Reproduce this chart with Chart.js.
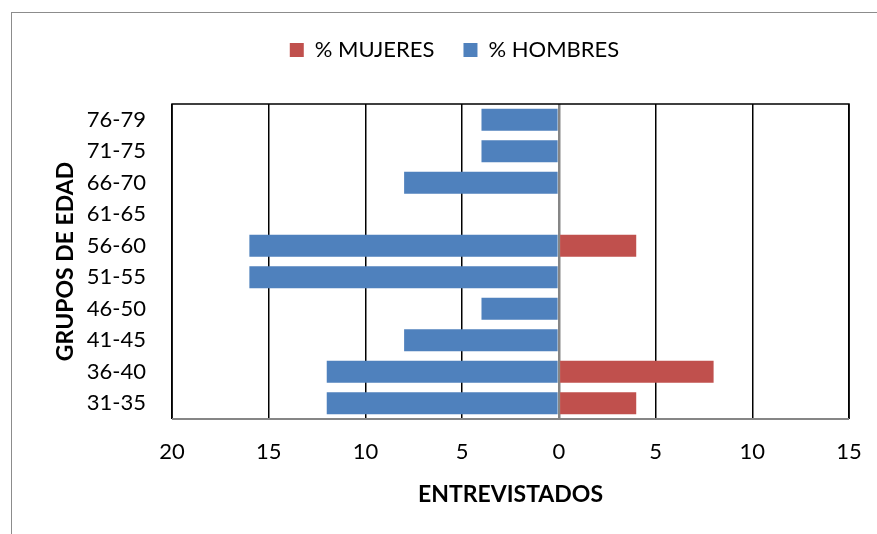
<!DOCTYPE html>
<html>
<head>
<meta charset="utf-8">
<script src="https://cdn.jsdelivr.net/npm/chart.js@4.4.1/dist/chart.umd.min.js"></script>
<style>
  html, body { margin: 0; padding: 0; background: #fff; }
  #wrap { position: relative; width: 877px; height: 534px; }
  #frame { position: absolute; left: 11px; top: 12px; width: 900px; height: 560px; border: 1px solid #8c8c8c; box-sizing: border-box; }
  canvas { position: absolute; left: 0; top: 0; }
</style>
</head>
<body>
<div id="wrap">
  <div id="frame"></div>
  <canvas id="chart" width="877" height="534"></canvas>
</div>
<script>
// grupos de edad, de arriba hacia abajo
const grupos = ["76-79", "71-75", "66-70", "61-65", "56-60", "51-55", "46-50", "41-45", "36-40", "31-35"];
const mujeres = [0, 0, 0, 0, 4, 0, 0, 0, 8, 4];
const hombres = [4, 4, 8, 0, 16, 16, 4, 8, 12, 12];

const xMin = -20;
const xMax = 15;
const xStep = 5;

const FONT = "Lato, 'Open Sans', sans-serif";

// cadre noir autour de la zone de tracé
const plotFrame = {
  id: "plotFrame",
  beforeInit(chart) {
    // hauteur fixe de la légende
    const fit = chart.legend.fit;
    chart.legend.fit = function () {
      fit.call(this);
      this.height = 94;
    };
  },
  afterLayout(chart) {
    // légende un peu décalée vers la droite
    chart.legend.left += 24;
    chart.legend.right += 24;
  },
  afterDraw(chart) {
    const { ctx, chartArea: a } = chart;
    ctx.save();
    ctx.strokeStyle = "#000";
    ctx.lineWidth = 1.5;
    ctx.beginPath();
    ctx.moveTo(a.left, a.bottom);
    ctx.lineTo(a.left, a.top);
    ctx.lineTo(a.right, a.top);
    ctx.lineTo(a.right, a.bottom);
    ctx.stroke();
    ctx.strokeStyle = "#868686";
    ctx.lineWidth = 2;
    ctx.beginPath();
    ctx.moveTo(a.left, a.bottom);
    ctx.lineTo(a.right, a.bottom);
    ctx.stroke();
    ctx.restore();
  },
};

new Chart(document.getElementById("chart").getContext("2d"), {
  type: "bar",
  data: {
    labels: grupos,
    datasets: [
      {
        label: "% MUJERES",
        data: mujeres,
        backgroundColor: "#C0504D",
        grouped: false,
        barPercentage: 0.7,
        categoryPercentage: 1,
      },
      {
        label: "% HOMBRES",
        data: hombres.map((v) => -v),
        backgroundColor: "#4F81BD",
        grouped: false,
        barPercentage: 0.7,
        categoryPercentage: 1,
      },
    ],
  },
  options: {
    indexAxis: "y",
    responsive: false,
    animation: false,
    layout: { padding: { left: 12, right: 28, top: 10, bottom: 20 } },
    plugins: {
      legend: {
        display: true,
        position: "top",
        labels: {
          font: { family: FONT, size: 22 },
          color: "#000",
          boxWidth: 14,
          boxHeight: 14,
          padding: 29,
        },
      },
      tooltip: { enabled: false },
    },
    scales: {
      x: {
        min: xMin,
        max: xMax,
        afterFit: (s) => {
          s.height = 95;
          s.paddingLeft = 0;
          s.paddingRight = 0;
        },
        ticks: {
          stepSize: xStep,
          font: { family: FONT, size: 22 },
          color: "#000",
          padding: 20,
          callback: (v) => Math.abs(v),
        },
        grid: {
          color: (c) => (c.tick && c.tick.value === 0 ? "#868686" : "#000"),
          lineWidth: (c) => (c.tick && c.tick.value === 0 ? 2.5 : 1.5),
          drawTicks: false,
        },
        border: { display: false },
        title: {
          display: true,
          text: "ENTREVISTADOS",
          font: { family: FONT, size: 23, weight: "bold" },
          color: "#000",
          padding: { top: 0, bottom: 6 },
        },
      },
      y: {
        afterFit: (s) => { s.width = 160; },
        ticks: {
          font: { family: FONT, size: 22 },
          color: "#000",
          padding: 18,
        },
        grid: { display: false },
        border: { display: false },
        title: {
          display: true,
          text: "GRUPOS DE EDAD",
          font: { family: FONT, size: 23, weight: "bold" },
          color: "#000",
          padding: { top: 40, bottom: 0 },
        },
      },
    },
  },
  plugins: [plotFrame],
});
</script>
</body>
</html>
